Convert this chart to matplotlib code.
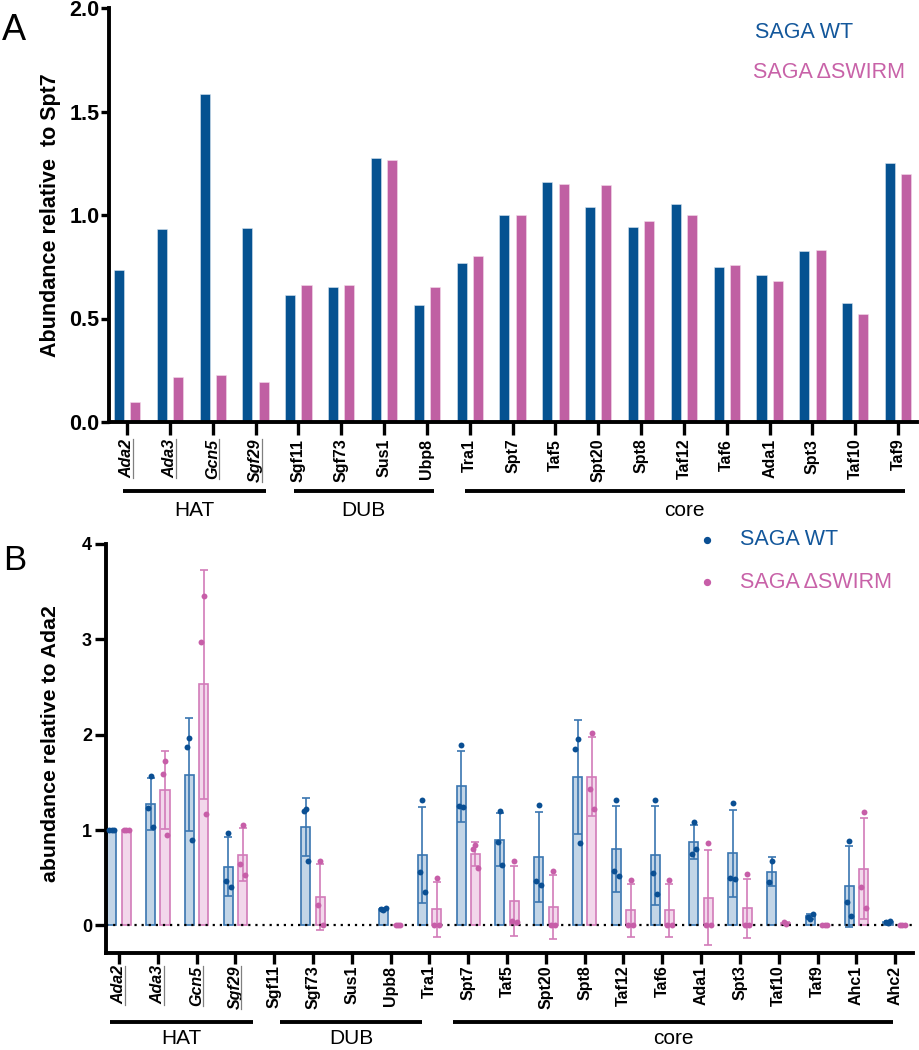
import numpy as np
import matplotlib
matplotlib.use('Agg')
import matplotlib.pyplot as plt
from matplotlib.lines import Line2D

plt.rcParams['font.family'] = ['Liberation Sans', 'DejaVu Sans']

# ---------------- Panel A data ----------------
cats_a = ['Ada2', 'Ada3', 'Gcn5', 'Sgf29', 'Sgf11', 'Sgf73', 'Sus1', 'Ubp8', 'Tra1',
          'Spt7', 'Taf5', 'Spt20', 'Spt8', 'Taf12', 'Taf6', 'Ada1', 'Spt3', 'Taf10', 'Taf9']
wt_a = [0.734, 0.932, 1.584, 0.935, 0.613, 0.650, 1.275, 0.565, 0.770,
        1.000, 1.160, 1.040, 0.940, 1.055, 0.750, 0.710, 0.826, 0.577, 1.250]
sw_a = [0.097, 0.217, 0.227, 0.193, 0.660, 0.660, 1.265, 0.650, 0.800,
        1.000, 1.150, 1.145, 0.970, 1.000, 0.760, 0.680, 0.833, 0.520, 1.200]
yticks_a = [0.0, 0.5, 1.0, 1.5, 2.0]
ytick_labels_a = ['0.0', '0.5', '1.0', '1.5', '2.0']

# ---------------- Panel B data (three replicates) ----------------
cats_b = ['Ada2', 'Ada3', 'Gcn5', 'Sgf29', 'Sgf11', 'Sgf73', 'Sus1', 'Upb8', 'Tra1',
          'Spt7', 'Taf5', 'Spt20', 'Spt8', 'Taf12', 'Taf6', 'Ada1', 'Spt3', 'Taf10',
          'Taf9', 'Ahc1', 'Ahc2']
nan = np.nan
wt_r1 = [1.0, 1.565, 1.97, 0.97, nan, 1.225, nan, 0.165, 1.31, 1.89, 1.195, 1.265, 1.955,
         1.32, 1.32, 1.08, 1.285, 0.67, 0.07, 0.89, 0.02]
wt_r2 = [1.0, 1.23, 1.87, 0.47, nan, 1.195, nan, 0.175, 0.555, 1.25, 0.87, 0.465, 1.845,
         0.567, 0.55, 0.75, 0.50, 0.455, 0.09, 0.24, 0.03]
wt_r3 = [1.0, 1.03, 0.90, 0.405, nan, 0.68, nan, 0.18, 0.35, 1.24, 0.635, 0.425, 0.865,
         0.514, 0.33, 0.80, 0.49, nan, 0.12, 0.095, 0.045]
sw_r1 = [1.0, 1.725, 3.45, 1.055, nan, 0.68, nan, 0.0, 0.50, 0.84, 0.68, 0.575, 2.02,
         0.48, 0.48, 0.865, 0.535, 0.01, 0.0, 1.19, 0.0]
sw_r2 = [1.0, 1.585, 2.97, 0.64, nan, 0.217, nan, 0.0, 0.0, 0.80, 0.05, 0.0, 1.43,
         0.0, 0.0, 0.0, 0.0, 0.03, 0.0, 0.40, 0.0]
sw_r3 = [1.0, 0.95, 1.17, 0.53, nan, 0.0, nan, 0.0, 0.0, 0.60, 0.04, 0.0, 1.225,
         0.0, 0.0, 0.0, 0.0, nan, 0.0, 0.185, 0.0]
yticks_b = [0, 1, 2, 3, 4]

underlined = ['Ada2', 'Ada3', 'Gcn5', 'Sgf29']
series_names = ['SAGA WT', 'SAGA \u0394SWIRM']

# ---------------- Styles ----------------
C_WT = '#055291'
C_SW = '#c060a3'
WT_EDGE, WT_FILL, WT_DOT = '#3a76b0', '#c2d5e7', '#0a4f93'
SW_EDGE, SW_FILL, SW_DOT = '#d27bb9', '#f2d7eb', '#c75ea8'
LEG_WT, LEG_SW = '#13579b', '#c862a8'
W, H = 919, 1050

fig = plt.figure(figsize=(W / 100, H / 100), dpi=100)

# ================= Panel A =================
axA = fig.add_axes([109 / W, (H - 422) / H, (917 - 109) / W, (422 - 8) / H])
xa = np.arange(len(cats_a))
bw, off = 0.235, 0.19
axA.bar(xa - off, wt_a, bw, color=C_WT, edgecolor='#d8e4f0', linewidth=0.4, zorder=2)
axA.bar(xa + off, sw_a, bw, color=C_SW, edgecolor='#f3dbea', linewidth=0.4, zorder=2)
axA.set_xlim(-0.42, len(cats_a) - 1 + 0.44)
axA.set_ylim(0, 2)
axA.set_yticks(yticks_a)
axA.set_yticklabels(ytick_labels_a, fontsize=15.5, fontweight='bold')
axA.set_xticks(xa)
axA.set_xticklabels(cats_a, rotation=90, fontsize=11.5, fontweight='bold')
for s in ['top', 'right']:
    axA.spines[s].set_visible(False)
for s in ['left', 'bottom']:
    axA.spines[s].set_linewidth(2.8)
axA.tick_params(axis='y', length=6, width=2.4, pad=1)
axA.tick_params(axis='x', length=9, width=2.4, pad=3)
axA.text(-0.072, 0.5, 'Abundance relative  to Spt7', transform=axA.transAxes,
         rotation=90, ha='center', va='center', fontsize=15.5, fontweight='bold')
axA.text(0.7995, 0.94, series_names[0], transform=axA.transAxes, color=LEG_WT,
         fontsize=15.5, ha='left', va='center')
axA.text(0.797, 0.843, series_names[1], transform=axA.transAxes, color=LEG_SW,
         fontsize=15.5, ha='left', va='center')

groups_a = [('HAT', -0.10, 3.24), ('DUB', 3.89, 7.16), ('core', 7.88, 18.15)]
for name, x0, x1 in groups_a:
    axA.plot([x0, x1], [-0.167, -0.167], color='black', lw=2.8,
             transform=axA.get_xaxis_transform(), clip_on=False, solid_capstyle='butt')
    axA.text((x0 + x1) / 2, -0.213, name, transform=axA.get_xaxis_transform(),
             ha='center', va='center', fontsize=15,
             family=['Liberation Sans Narrow', 'Liberation Sans'])

# ================= Panel B =================
axB = fig.add_axes([106 / W, (H - 953) / H, (913 - 106) / W, (953 - 544) / H])
xb = np.arange(len(cats_b))
wt_reps = np.array([wt_r1, wt_r2, wt_r3])
sw_reps = np.array([sw_r1, sw_r2, sw_r3])


def stats(reps):
    means, sds = [], []
    for k in range(reps.shape[1]):
        col = reps[:, k]
        col = col[~np.isnan(col)]
        if len(col) == 0:
            means.append(np.nan)
            sds.append(np.nan)
        else:
            means.append(col.mean())
            sds.append(col.std(ddof=1) if len(col) > 1 else 0.0)
    return np.array(means), np.array(sds)


wt_mean, wt_sd = stats(wt_reps)
sw_mean, sw_sd = stats(sw_reps)
bwb, offb = 0.235, 0.185
jit = [0.0, -0.06, 0.06]

for xs, mean, sd, reps, edge, fill, dot in [
        (xb - offb, wt_mean, wt_sd, wt_reps, WT_EDGE, WT_FILL, WT_DOT),
        (xb + offb, sw_mean, sw_sd, sw_reps, SW_EDGE, SW_FILL, SW_DOT)]:
    ok = ~np.isnan(mean)
    axB.bar(xs[ok], mean[ok], bwb, color=fill, edgecolor=edge, linewidth=1.2, zorder=2)
    axB.errorbar(xs[ok], mean[ok], yerr=sd[ok], fmt='none', ecolor=edge,
                 elinewidth=1.2, capsize=3, capthick=1.2, zorder=3)
    for j in range(reps.shape[0]):
        r = reps[j]
        okr = ~np.isnan(r)
        axB.scatter(xs[okr] + jit[j], r[okr], s=18, color=dot, zorder=5, linewidths=0)

axB.axhline(0, color='black', ls=(0, (1, 2.2)), lw=1.6, zorder=4)
axB.set_xlim(-0.335, len(cats_b) - 1 + 0.46)
axB.set_ylim(-0.29, 4)
axB.set_yticks(yticks_b)
axB.set_yticklabels([str(v) for v in yticks_b], fontsize=13, fontweight='bold')
axB.set_xticks(xb)
axB.set_xticklabels(cats_b, rotation=90, fontsize=11.5, fontweight='bold')
for s in ['top', 'right']:
    axB.spines[s].set_visible(False)
for s in ['left', 'bottom']:
    axB.spines[s].set_linewidth(2.8)
axB.spines['left'].set_bounds(-0.29, 4)
axB.tick_params(axis='y', length=8, width=2.4, pad=2)
axB.tick_params(axis='x', length=8, width=2.4, pad=1)
axB.text(-0.069, 0.512, 'abundance relative to Ada2', transform=axB.transAxes,
         rotation=90, ha='center', va='center', fontsize=15.3, fontweight='bold')

axB.scatter([0.745], [1.01], s=18, color=WT_DOT, transform=axB.transAxes, clip_on=False)
axB.scatter([0.745], [0.907], s=18, color=SW_DOT, transform=axB.transAxes, clip_on=False)
axB.text(0.786, 1.01, series_names[0], transform=axB.transAxes, color=LEG_WT,
         fontsize=15.5, ha='left', va='center')
axB.text(0.786, 0.907, series_names[1], transform=axB.transAxes, color=LEG_SW,
         fontsize=15.5, ha='left', va='center')

groups_b = [('HAT', -0.23, 3.45), ('DUB', 4.16, 7.8), ('core', 8.6, 19.95)]
for name, x0, x1 in groups_b:
    axB.plot([x0, x1], [-0.169, -0.169], color='black', lw=2.8,
             transform=axB.get_xaxis_transform(), clip_on=False, solid_capstyle='butt')
    axB.text((x0 + x1) / 2, -0.208, name, transform=axB.get_xaxis_transform(),
             ha='center', va='center', fontsize=15,
             family=['Liberation Sans Narrow', 'Liberation Sans'])

# italic + underline for HAT subunits
for ax in (axA, axB):
    for lbl in ax.get_xticklabels():
        if lbl.get_text() in underlined:
            lbl.set_style('italic')

fig.text(2 / W, 1 - 31 / H, 'A', fontsize=26, ha='left', va='center')
fig.text(3 / W, 1 - 560 / H, 'B', fontsize=25, ha='left', va='center')

fig.canvas.draw()
renderer = fig.canvas.get_renderer()
for ax in (axA, axB):
    for lbl in ax.get_xticklabels():
        if lbl.get_text() in underlined:
            bb = lbl.get_window_extent(renderer)
            xu = (bb.x1 - 1.5) / W
            fig.add_artist(Line2D([xu, xu], [bb.y0 / H, bb.y1 / H], color='#808080',
                                  lw=0.9, transform=fig.transFigure))

fig.savefig('out.png', dpi=100)
